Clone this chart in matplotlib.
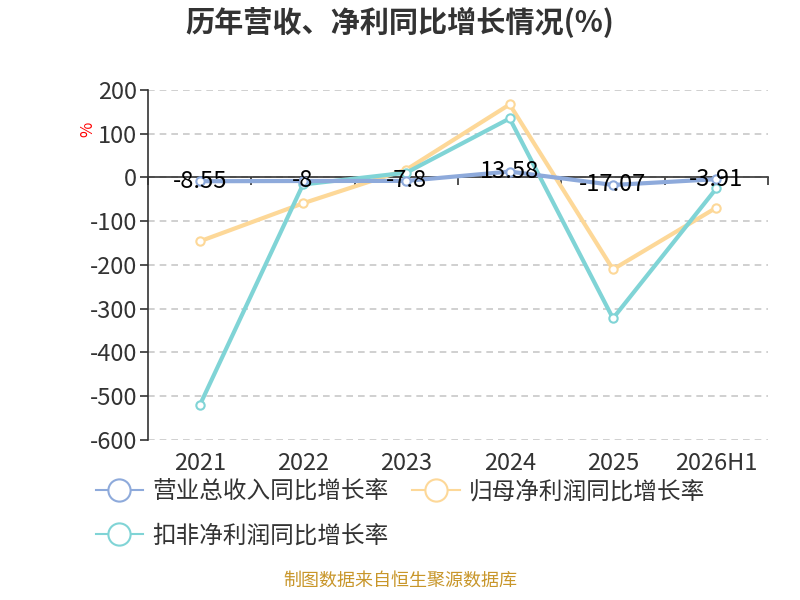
import matplotlib
matplotlib.use("Agg")
import matplotlib.pyplot as plt
import matplotlib.transforms as mtransforms
from matplotlib.lines import Line2D

plt.rcParams['font.family'] = ['Noto Sans CJK SC', 'DejaVu Sans']
plt.rcParams['axes.unicode_minus'] = False

# 数据
years = ["2021", "2022", "2023", "2024", "2025", "2026H1"]
revenue_growth = [-8.55, -8, -7.8, 13.58, -17.07, -3.91]
net_profit_growth = [-146, -59, 18, 167, -210, -69]
deducted_profit_growth = [-521, -16, 11, 135, -322, -25]
series_names = ["营业总收入同比增长率", "归母净利润同比增长率", "扣非净利润同比增长率"]
colors = ["#8eaadb", "#fdd898", "#80d4d6"]

fig = plt.figure(figsize=(8, 6), dpi=100)
ax = fig.add_axes([0.185, 0.2667, 0.775, 0.5833])

x = list(range(len(years)))
ax.set_xlim(-0.5, len(years) - 0.5)
ax.set_ylim(-600, 200)

# 网格线
ax.set_yticks(range(-600, 201, 100))
ax.grid(axis="y", color="#c8c8c8", linestyle=(0, (4, 3)), linewidth=1.2)
ax.set_axisbelow(True)

for s in ["top", "right"]:
    ax.spines[s].set_visible(False)
ax.spines["left"].set_color("#333333")
ax.spines["left"].set_linewidth(1.2)
ax.spines["bottom"].set_position(("data", 0))
ax.spines["bottom"].set_color("#333333")
ax.spines["bottom"].set_linewidth(1.2)

ax.tick_params(axis="y", length=6, width=1.2, color="#333333", labelsize=17, labelcolor="#333333", pad=2)
ax.set_xticks([i - 0.5 for i in range(len(years) + 1)])
ax.set_xticklabels([])
ax.tick_params(axis="x", length=6, width=1.2, color="#333333", direction="out")

# x轴类目标签放在底部
trans = mtransforms.blended_transform_factory(ax.transData, ax.transAxes)
for i, yr in enumerate(years):
    ax.text(i, -0.035, yr, transform=trans, ha="center", va="top", fontsize=17, color="#333333")

# 画线
all_series = [revenue_growth, net_profit_growth, deducted_profit_growth]
z = [5, 3, 4]
for vals, c, zz in zip(all_series, colors, z):
    ax.plot(x, vals, color=c, linewidth=3, marker="o", markersize=6,
            markerfacecolor="white", markeredgecolor=c, markeredgewidth=1.5, zorder=zz,
            clip_on=False)

# 营收数据标签
for i, v in enumerate(revenue_growth):
    ax.annotate(f"{v:g}", (i, v), xytext=(0, 0), textcoords="offset points",
                ha="center", va="center", fontsize=17, color="black", zorder=6)

# % 标签
fig.text(0.11, 0.785, "%", color="red", fontsize=12, rotation=90, ha="center", va="center")

# 标题
fig.text(0.5, 0.962, "历年营收、净利同比增长情况(%)", ha="center", va="center",
         fontsize=21, fontweight="bold", color="#333333")

# 图例 (按列填充，所以顺序调整为行优先效果)
handles = [Line2D([0], [0], color=c, linewidth=1.5, marker="o", markersize=16,
                  markerfacecolor="white", markeredgecolor=c, markeredgewidth=1.5)
           for c in colors]
order = [0, 2, 1]
fig.legend([handles[k] for k in order], [series_names[k] for k in order],
           loc="upper left", bbox_to_anchor=(0.108, 0.215),
           ncol=2, frameon=False, fontsize=17, handlelength=2.0, handletextpad=0.4,
           columnspacing=1.0, labelspacing=0.9, labelcolor="#333333", borderaxespad=0)

# 来源
fig.text(0.5, 0.017, "制图数据来自恒生聚源数据库", ha="center", va="bottom", fontsize=13, color="#c8962a")

fig.savefig("out.png", dpi=100)
